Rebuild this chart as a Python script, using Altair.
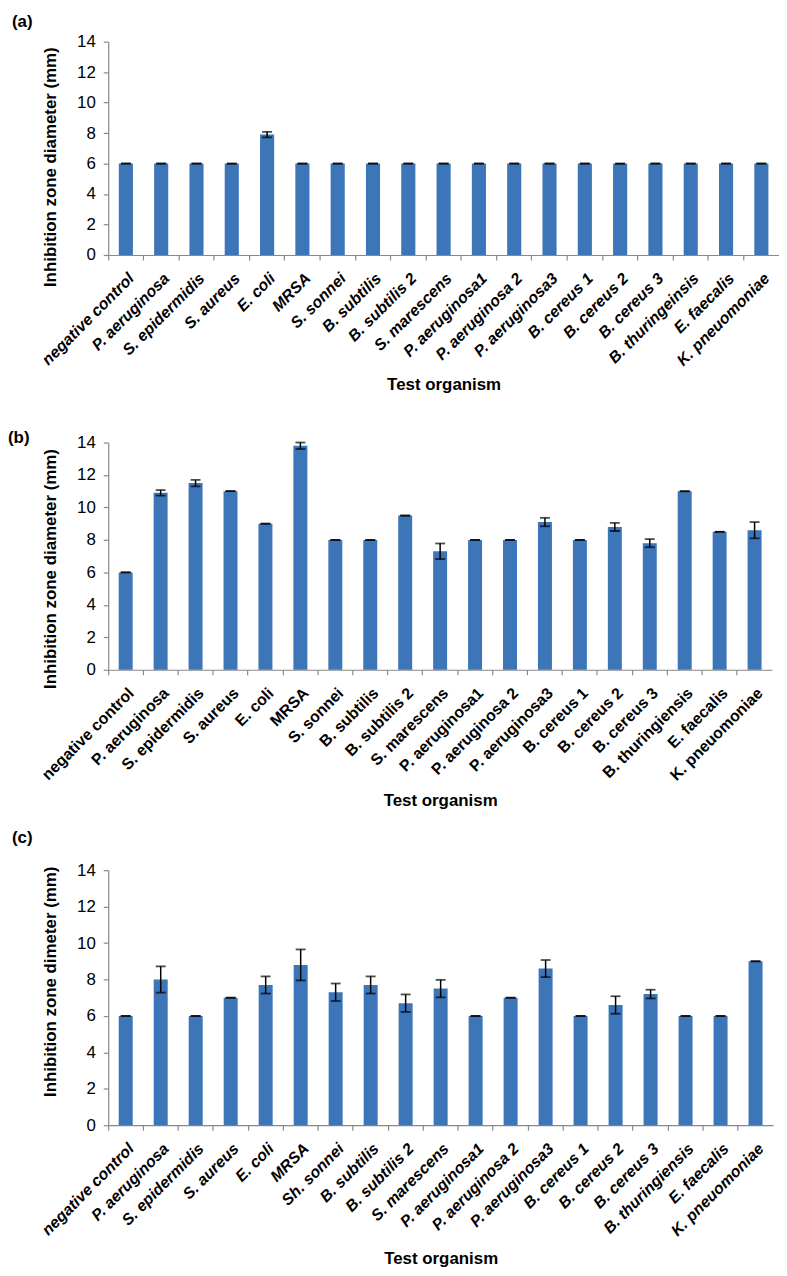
import altair as alt
import pandas as pd

# ---------------- data ----------------
cats_a = ["negative control", "P. aeruginosa", "S. epidermidis", "S. aureus", "E. coli", "MRSA",
          "S. sonnei", "B. subtilis", "B. subtilis 2", "S. marescens", "P. aeruginosa1",
          "P. aeruginosa 2", "P. aeruginosa3", "B. cereus 1", "B. cereus 2", "B. cereus 3",
          "B. thuringeinsis", "E. faecalis", "K. pneuomoniae"]
mean_a = [6, 6, 6, 6, 7.9, 6, 6, 6, 6, 6, 6, 6, 6, 6, 6, 6, 6, 6, 6]
err_a = [0, 0, 0, 0, 0.18, 0, 0, 0, 0, 0, 0, 0, 0, 0, 0, 0, 0, 0, 0]

cats_b = ["negative control", "P. aeruginosa", "S. epidermidis", "S. aureus", "E. coli", "MRSA",
          "S. sonnei", "B. subtilis", "B. subtilis 2", "S. marescens", "P. aeruginosa1",
          "P. aeruginosa 2", "P. aeruginosa3", "B. cereus 1", "B. cereus 2", "B. cereus 3",
          "B. thuringiensis", "E. faecalis", "K. pneuomoniae"]
mean_b = [6, 10.9, 11.5, 11.0, 9.0, 13.8, 8.0, 8.0, 9.5, 7.3, 8.0, 8.0, 9.1, 8.0, 8.8, 7.8, 11.0, 8.5, 8.6]
err_b = [0, 0.17, 0.2, 0, 0, 0.2, 0, 0, 0, 0.48, 0, 0, 0.26, 0, 0.25, 0.25, 0, 0, 0.5]

cats_c = ["negative control", "P. aeruginosa", "S. epidermidis", "S. aureus", "E. coli", "MRSA",
          "Sh. sonnei", "B. subtilis", "B. subtilis 2", "S. marescens", "P. aeruginosa1",
          "P. aeruginosa 2", "P. aeruginosa3", "B. cereus 1", "B. cereus 2", "B. cereus 3",
          "B. thuringiensis", "E. faecalis", "K. pneuomoniae"]
mean_c = [6, 8.0, 6, 7.0, 7.7, 8.8, 7.3, 7.7, 6.7, 7.5, 6, 7.0, 8.6, 6, 6.6, 7.2, 6, 6, 9.0]
err_c = [0, 0.72, 0, 0, 0.47, 0.85, 0.48, 0.47, 0.48, 0.48, 0, 0, 0.47, 0, 0.48, 0.24, 0, 0, 0]

y_ticks = [0, 2, 4, 6, 8, 10, 12, 14]

BLUE = "#3D75B9"
GRAY = "#898989"
FONT = "Liberation Sans"


def panel(label, cats, means, errs, ytitle, italic, width, height, ytitle_y,
          lab_x, lab_y, xtitle_y):
    df = pd.DataFrame({"organism": cats, "mean": means, "err": errs})
    df["lo"] = df["mean"] - df["err"]
    df["hi"] = df["mean"] + df["err"]

    x_axis = alt.Axis(
        title="Test organism", titleFont=FONT, titleFontSize=17, titleFontWeight="bold",
        titleColor="black", titleBaseline="middle", titleY=xtitle_y,
        labelAngle=-45, labelFont=FONT, labelFontSize=16, labelFontWeight="bold",
        labelFontStyle="italic" if italic else "normal", labelColor="black",
        labelLimit=400, labelPadding=10, labelAlign="right", labelBaseline="top",
        bandPosition=0, tickSize=5, tickColor=GRAY, domainColor=GRAY,
        domainWidth=1.2, tickWidth=1.2, grid=False,
    )
    y_axis = alt.Axis(
        title=ytitle, titleFont=FONT, titleFontSize=17, titleFontWeight="bold",
        titleColor="black", titleBaseline="middle", titleX=-58, titleY=ytitle_y,
        values=y_ticks, labelFont=FONT, labelFontSize=17, labelColor="black",
        labelPadding=8, tickSize=5, tickColor=GRAY, domainColor=GRAY,
        domainWidth=1.2, tickWidth=1.2, grid=False,
    )
    x = alt.X("organism:N", sort=cats,
              scale=alt.Scale(paddingInner=0, paddingOuter=0), axis=x_axis)
    yscale = alt.Scale(domain=[0, 14], nice=False)

    base = alt.Chart(df)
    bars = base.mark_bar(color=BLUE, width=alt.RelativeBandSize(0.4)).encode(
        x=x, y=alt.Y("mean:Q", scale=yscale, axis=y_axis))
    rule = base.mark_rule(color="black", strokeWidth=1.5).encode(
        x=x, y=alt.Y("lo:Q", scale=yscale, axis=y_axis), y2="hi:Q")
    cap_lo = base.mark_tick(color="black", size=10, thickness=1.8).encode(
        x=x, y=alt.Y("lo:Q", scale=yscale, axis=y_axis))
    cap_hi = base.mark_tick(color="black", size=10, thickness=1.8).encode(
        x=x, y=alt.Y("hi:Q", scale=yscale, axis=y_axis))
    tag = alt.Chart(pd.DataFrame({"lab": [label]})).mark_text(
        font=FONT, fontSize=17, fontWeight="bold", color="black",
        align="left", baseline="middle").encode(
        text="lab:N", x=alt.value(lab_x), y=alt.value(lab_y))

    return alt.layer(bars, rule, cap_lo, cap_hi, tag).properties(width=width, height=height)


pa = panel("(a)", cats_a, mean_a, err_a, "Inhibition zone diameter (mm)", True, 676, 215, 126, -97, -20, 131)
pb = panel("(b)", cats_b, mean_b, err_b, "Inhibition zone diameter (mm)", False, 669, 229, 127, -101, -5, 132)
pc = panel("(c)", cats_c, mean_c, err_c, "Inhibition zone dimeter (mm)", True, 670, 257, 112, -97, -32, 134)

inner = alt.vconcat(pb, pc, spacing=202, bounds="flush")
chart = alt.vconcat(pa, inner, spacing=189, bounds="flush").properties(
    padding={"left": 0, "top": 0, "right": 0, "bottom": 0}
).configure_view(stroke=None)

chart.save("out.html", embed_options={"renderer": "svg", "actions": False})
